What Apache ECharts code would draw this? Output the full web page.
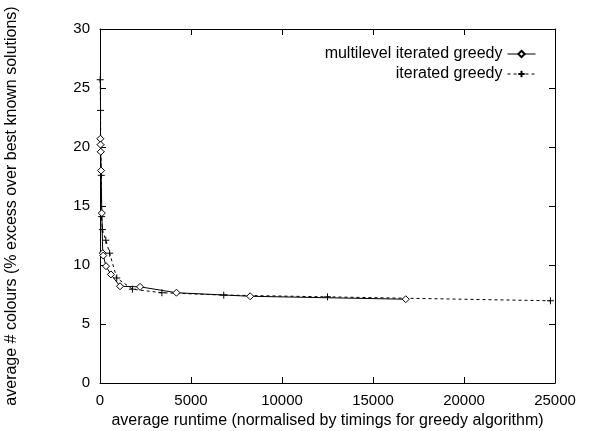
<!DOCTYPE html>
<html>
<head>
<meta charset="utf-8">
<script src="https://cdn.jsdelivr.net/npm/echarts@6/dist/echarts.min.js"></script>
<style>
  html, body { margin: 0; padding: 0; background: #fff; }
  #chart { width: 589px; height: 431px; }
</style>
</head>
<body>
<div id="chart"></div>
<script>
// Runtime (normalised by greedy timings) vs. average colour excess
const seriesNames = ['multilevel iterated greedy', 'iterated greedy'];

const mlRuntime = [20, 30, 40, 60, 100, 150, 180, 330, 600, 1100, 2200, 4200, 8250, 16800];
const mlColours = [20.7, 20.2, 19.6, 18.0, 14.4, 11.0, 10.8, 9.9, 9.2, 8.2, 8.15, 7.65, 7.35, 7.1];

const igRuntime = [10, 30, 40, 50, 70, 90, 130, 320, 530, 920, 1780, 3400, 6800, 12500, 24750];
const igColours = [25.7, 23.1, 20.2, 19.6, 17.6, 14.1, 13.0, 12.1, 11.0, 8.9, 7.95, 7.65, 7.45, 7.3, 6.97];

const xTicks = { min: 0, max: 25000, interval: 5000 };
const yTicks = { min: 0, max: 30, interval: 5 };

const pairs = (xs, ys) => xs.map((x, i) => [x, ys[i]]);

const FONT = 'Liberation Sans';
const plusPath = 'path://M0,5H10M5,0V10';

const chart = echarts.init(document.getElementById('chart'), null, { renderer: 'canvas' });

const axisLine = { show: true, onZero: false, lineStyle: { color: '#000', width: 1 } };
const tick = { show: true, inside: true, length: 6, lineStyle: { color: '#000', width: 1 } };
const plain = v => String(v);

chart.setOption({
  animation: false,
  backgroundColor: '#fff',
  textStyle: { fontFamily: FONT, color: '#000' },
  grid: { left: 100, right: 34, top: 29, bottom: 48, containLabel: false, outerBoundsMode: 'none' },
  legend: {
    orient: 'vertical',
    align: 'right',
    right: 48,
    top: 39,
    itemWidth: 28,
    itemHeight: 8,
    itemGap: 0,
    lineStyle: { width: 1 },
    textStyle: { fontFamily: FONT, fontSize: 16, color: '#000', lineHeight: 20 },
    data: seriesNames
  },
  xAxis: [
    {
      type: 'value',
      position: 'bottom',
      min: xTicks.min, max: xTicks.max, interval: xTicks.interval,
      name: 'average runtime (normalised by timings for greedy algorithm)',
      nameLocation: 'middle',
      nameGap: 22,
      nameTextStyle: { fontFamily: FONT, fontSize: 16, color: '#000' },
      axisLine, axisTick: tick,
      axisLabel: { fontFamily: FONT, fontSize: 15, color: '#000', margin: 10, formatter: plain },
      splitLine: { show: false }
    },
    {
      type: 'value',
      position: 'top',
      min: xTicks.min, max: xTicks.max, interval: xTicks.interval,
      axisLine, axisTick: tick,
      axisLabel: { show: false },
      splitLine: { show: false }
    }
  ],
  yAxis: [
    {
      type: 'value',
      position: 'left',
      min: yTicks.min, max: yTicks.max, interval: yTicks.interval,
      name: 'average # colours (% excess over best known solutions)',
      nameLocation: 'middle',
      nameGap: 80,
      nameTextStyle: { fontFamily: FONT, fontSize: 16, color: '#000' },
      axisLine, axisTick: tick,
      axisLabel: { fontFamily: FONT, fontSize: 15, color: '#000', margin: 10, formatter: plain },
      splitLine: { show: false }
    },
    {
      type: 'value',
      position: 'right',
      min: yTicks.min, max: yTicks.max, interval: yTicks.interval,
      axisLine, axisTick: tick,
      axisLabel: { show: false },
      splitLine: { show: false }
    }
  ],
  series: [
    {
      name: seriesNames[1],
      type: 'line',
      data: pairs(igRuntime, igColours),
      symbol: plusPath,
      symbolSize: 7,
      showAllSymbol: true,
      lineStyle: { color: '#000', width: 1, type: [3, 3] },
      itemStyle: { color: '#000', borderColor: '#000', borderWidth: 1 },
      z: 2
    },
    {
      name: seriesNames[0],
      type: 'line',
      data: pairs(mlRuntime, mlColours),
      symbol: 'diamond',
      symbolSize: 7,
      showAllSymbol: true,
      lineStyle: { color: '#000', width: 1 },
      itemStyle: { color: '#fff', borderColor: '#000', borderWidth: 1 },
      z: 3
    }
  ]
});
</script>
</body>
</html>
